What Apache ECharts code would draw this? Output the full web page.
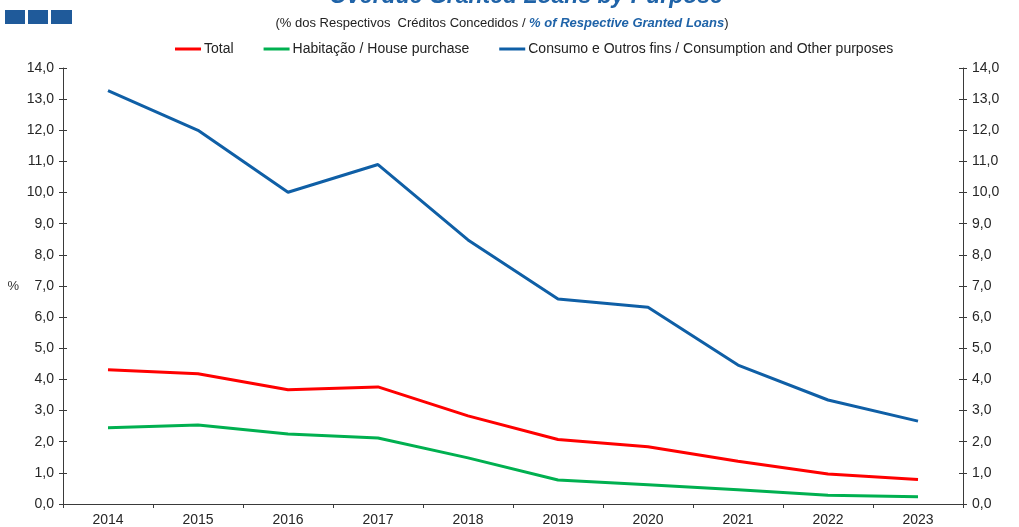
<!DOCTYPE html>
<html><head><meta charset="utf-8">
<script src="https://cdn.jsdelivr.net/npm/echarts@6/dist/echarts.min.js"></script>
<style>html,body{margin:0;padding:0;background:#fff}#c{width:1019px;height:527px}</style>
</head><body><div id="c"></div>
<script>
const years = ['2014','2015','2016','2017','2018','2019','2020','2021','2022','2023'];
const total = [4.31, 4.18, 3.67, 3.76, 2.83, 2.07, 1.84, 1.37, 0.96, 0.79];
const housing = [2.45, 2.54, 2.25, 2.12, 1.48, 0.77, 0.62, 0.46, 0.28, 0.23];
const consumption = [13.27, 12.00, 10.01, 10.90, 8.48, 6.58, 6.32, 4.46, 3.34, 2.66];
const seriesNames = ['Total', 'Habitação / House purchase', 'Consumo e Outros fins / Consumption and Other purposes'];
const yTicks = {min: 0, max: 14, interval: 1};

const font = 'Liberation Sans, Arial, sans-serif';
const fmt = v => v.toFixed(1).replace('.', ',');
const axisLine = {show: true, lineStyle: {color: '#3a3a3a', width: 1}};
const labelStyle = {color: '#262626', fontSize: 14, fontFamily: font};

const chart = echarts.init(document.getElementById('c'), null, {renderer: 'canvas'});
chart.setOption({
  animation: false,
  backgroundColor: '#fff',
  title: [
    {text: 'Overdue Granted Loans by Purpose', left: 521, textAlign: 'center', top: -20,
     textStyle: {color: '#1F63A8', fontSize: 23, fontWeight: 'bold', fontStyle: 'italic', fontFamily: font}},
    {text: '{n|(% dos Respectivos  Créditos Concedidos / }{b|% of Respective Granted Loans}{n|)}',
     left: 497, textAlign: 'center', top: 12,
     textStyle: {fontWeight: 'normal', rich: {
       n: {color: '#222', fontSize: 13, fontFamily: font, fontWeight: 'normal'},
       b: {color: '#1F63A8', fontSize: 13, fontFamily: font, fontWeight: 'bold', fontStyle: 'italic'}
     }}}
  ],
  graphic: [
    {type: 'rect', left: 5, top: 10, shape: {width: 20, height: 14}, style: {fill: '#1F5A9A'}},
    {type: 'rect', left: 28, top: 10, shape: {width: 20, height: 14}, style: {fill: '#1F5A9A'}},
    {type: 'rect', left: 51, top: 10, shape: {width: 21, height: 14}, style: {fill: '#1F5A9A'}}
  ],
  legend: {
    top: 37, left: 170, icon: 'rect', itemWidth: 26, itemHeight: 3, itemGap: 30,
    textStyle: {color: '#222', fontSize: 14, fontFamily: font, padding: [0, 0, 0, -2]},
    data: seriesNames
  },
  grid: {left: 63, right: 56, top: 68, bottom: 23, containLabel: false},
  xAxis: [
    {type: 'category', data: years, boundaryGap: true, position: 'bottom',
     axisLine: axisLine, axisTick: {show: true, length: 4, lineStyle: {color: '#3a3a3a'}},
     axisLabel: Object.assign({margin: 9}, labelStyle), splitLine: {show: false}}
  ],
  yAxis: [
    {type: 'value', position: 'left', min: yTicks.min, max: yTicks.max, interval: yTicks.interval,
     name: '%', nameLocation: 'middle', nameRotate: 0, nameGap: 44,
     nameTextStyle: {color: '#333', fontSize: 13, fontFamily: font},
     axisLine: axisLine, axisTick: {show: true, length: 4, lineStyle: {color: '#3a3a3a'}},
     axisLabel: Object.assign({margin: 9, formatter: fmt}, labelStyle), splitLine: {show: false}},
    {type: 'value', position: 'right', min: yTicks.min, max: yTicks.max, interval: yTicks.interval,
     axisLine: axisLine, axisTick: {show: true, length: 4, lineStyle: {color: '#3a3a3a'}},
     axisLabel: Object.assign({margin: 9, formatter: fmt}, labelStyle), splitLine: {show: false}},
    {type: 'value', position: 'left', min: yTicks.min, max: yTicks.max, interval: yTicks.interval,
     axisLine: {show: false}, axisTick: {show: true, inside: true, length: 4, lineStyle: {color: '#3a3a3a'}},
     axisLabel: {show: false}, splitLine: {show: false}},
    {type: 'value', position: 'right', min: yTicks.min, max: yTicks.max, interval: yTicks.interval,
     axisLine: {show: false}, axisTick: {show: true, inside: true, length: 4, lineStyle: {color: '#3a3a3a'}},
     axisLabel: {show: false}, splitLine: {show: false}}
  ],
  series: [
    {name: seriesNames[0], type: 'line', data: total, symbol: 'none', color: '#FF0000', lineStyle: {width: 3, color: '#FF0000'}},
    {name: seriesNames[1], type: 'line', data: housing, symbol: 'none', color: '#00B050', lineStyle: {width: 3, color: '#00B050'}},
    {name: seriesNames[2], type: 'line', data: consumption, symbol: 'none', color: '#0F5FA6', lineStyle: {width: 3, color: '#0F5FA6'}}
  ]
});
</script></body></html>
